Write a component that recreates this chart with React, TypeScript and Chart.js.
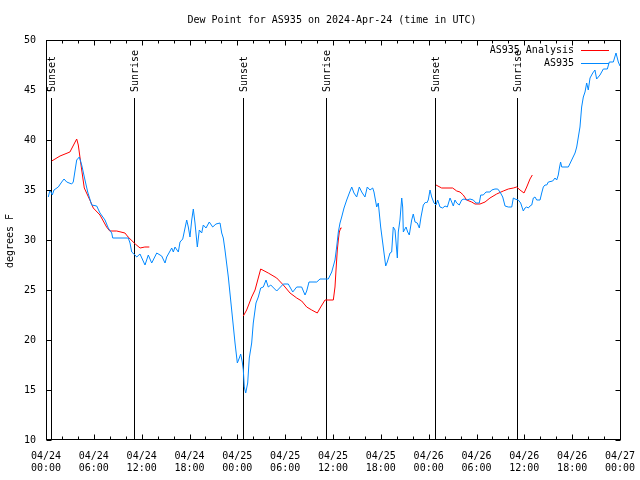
import React, { useEffect, useRef } from "react";
import { Chart, registerables } from "chart.js";

Chart.register(...registerables);

const FONT_FAMILY = "'DejaVu Sans Mono', 'Liberation Mono', monospace";

const chartTitle = "Dew Point for AS935 on 2024-Apr-24 (time in UTC)";
const yAxisTitle = "degrees F";
const seriesNames = ["AS935 Analysis", "AS935"];
const seriesColors = ["#ff0000", "#0088ff"];

const dateLabels = ["04/24", "04/25", "04/26", "04/27"];
const timeLabels = ["00:00", "06:00", "12:00", "18:00"];

const sunLabels = ["Sunset", "Sunrise", "Sunset", "Sunrise", "Sunset", "Sunrise"];
const sunHours = [0.63, 11.04, 24.73, 35.12, 48.8, 59.08];

// hours since 04/24 00:00 UTC
const obsHours = [
  0.29, 0.5, 0.79, 1.0, 1.54, 1.97, 2.26, 2.6, 3.22, 3.42,
  3.85, 4.18, 4.48, 4.89, 5.23, 5.73, 6.36, 6.77, 7.4, 7.81,
  8.24, 8.37, 10.32, 10.54, 10.75, 11.16, 11.38, 11.79, 12.42, 12.83,
  13.26, 13.89, 14.51, 14.93, 15.14, 15.77, 15.97, 16.18, 16.6, 16.81,
  17.15, 17.31, 17.65, 17.85, 18.06, 18.28, 18.48, 18.69, 18.98, 19.23,
  19.53, 19.73, 20.07, 20.48, 20.91, 21.32, 21.83, 22.04, 22.24, 22.45,
  22.87, 23.29, 23.71, 24.0, 24.25, 24.42, 24.62, 24.75, 24.87, 25.05,
  25.3, 25.5, 25.8, 26.0, 26.34, 26.63, 26.93, 27.26, 27.6, 27.88,
  28.19, 28.94, 29.77, 30.39, 30.95, 31.45, 32.07, 32.49, 32.7, 32.99,
  33.96, 34.37, 35.41, 35.84, 36.25, 36.46, 36.67, 36.88, 37.09, 37.38,
  37.72, 38.05, 38.35, 38.63, 38.97, 39.3, 39.6, 40.01, 40.3, 40.64,
  40.98, 41.14, 41.48, 41.68, 41.98, 42.24, 42.4, 42.61, 42.81, 43.15,
  43.36, 43.56, 43.78, 44.07, 44.19, 44.4, 44.62, 44.74, 44.82, 45.16,
  45.37, 45.57, 45.87, 46.07, 46.29, 46.57, 46.83, 47.04, 47.33, 47.63,
  47.75, 47.95, 48.17, 48.38, 48.67, 48.92, 49.13, 49.42, 49.76, 50.05,
  50.34, 50.68, 50.89, 51.09, 51.3, 51.52, 51.84, 52.14, 52.43, 52.77,
  53.18, 53.6, 53.94, 54.35, 54.53, 54.85, 55.19, 55.69, 55.91, 56.32,
  56.66, 56.95, 57.29, 57.58, 57.99, 58.42, 58.62, 58.83, 59.24, 59.54,
  59.87, 60.08, 60.3, 60.5, 60.71, 60.93, 61.13, 61.34, 61.55, 61.97,
  62.18, 62.38, 62.59, 62.81, 63.01, 63.56, 63.85, 64.06, 64.26, 64.4,
  64.55, 64.69, 65.52, 65.94, 66.36, 66.57, 66.98, 67.19, 67.4, 67.61,
  67.82, 68.02, 68.24, 68.58, 68.86, 69.07, 69.49, 69.91, 70.41, 70.66,
  71.16, 71.5, 71.79, 72.0,
];

const obsDewpoint = [
  34.3, 35.0, 34.5, 35.0, 35.3, 35.8, 36.1, 35.8, 35.6, 35.8,
  38.0, 38.3, 37.5, 36.0, 34.8, 33.5, 33.4, 32.7, 32.0, 31.2,
  30.7, 30.2, 30.2, 29.7, 28.8, 28.5, 28.3, 28.6, 27.5, 28.5,
  27.7, 28.7, 28.4, 27.7, 28.3, 29.2, 28.8, 29.3, 28.8, 29.8,
  30.1, 30.7, 32.0, 31.3, 30.3, 32.0, 33.1, 31.7, 29.3, 31.0,
  30.7, 31.5, 31.2, 31.8, 31.3, 31.6, 31.7, 30.7, 30.2, 29.0,
  26.3, 23.0, 19.7, 17.7, 18.2, 18.6, 17.8, 17.0, 15.3, 14.7,
  15.7, 18.2, 19.7, 21.7, 23.7, 24.3, 25.2, 25.3, 26.0, 25.3,
  25.5, 24.9, 25.6, 25.6, 24.8, 25.3, 25.3, 24.5, 24.9, 25.8,
  25.8, 26.1, 26.1, 26.8, 28.0, 29.3, 30.8, 31.7, 32.3, 33.2,
  34.0, 34.7, 35.3, 34.7, 34.3, 35.3, 34.8, 34.3, 35.3, 35.0,
  35.2, 34.8, 33.3, 33.7, 31.3, 29.7, 28.7, 27.4, 27.8, 28.7,
  28.8, 31.3, 31.0, 28.2, 30.8, 32.0, 34.2, 33.3, 30.8, 31.3,
  30.8, 30.5, 32.0, 32.6, 31.8, 31.7, 31.2, 32.3, 33.5, 33.8,
  33.7, 34.0, 35.0, 34.3, 33.7, 33.5, 34.0, 33.3, 33.2, 33.4,
  33.3, 34.2, 33.8, 33.4, 34.0, 33.7, 33.5, 34.0, 34.1, 34.0,
  34.1, 34.0, 33.7, 33.7, 34.5, 34.5, 34.8, 34.8, 35.0, 35.1,
  35.1, 34.8, 34.3, 33.4, 33.3, 33.3, 34.2, 34.1, 34.0, 33.7,
  32.9, 33.2, 33.3, 33.2, 33.4, 33.5, 34.2, 34.3, 34.0, 34.0,
  34.7, 35.3, 35.5, 35.5, 35.8, 35.9, 36.2, 36.0, 36.5, 37.2,
  37.8, 37.3, 37.3, 38.0, 38.7, 39.3, 41.3, 43.3, 44.3, 44.8,
  45.7, 45.0, 46.2, 46.7, 47.0, 46.1, 46.5, 47.1, 47.1, 47.8,
  47.8, 48.7, 47.8, 47.4,
];

const anaHours = [
  0.72, 1.76, 3.0, 3.85, 4.05, 4.48, 4.8, 5.5, 5.93, 6.77,
  7.6, 8.0, 8.87, 9.9, 10.3, 11.2, 11.8, 12.4, 12.96,
  13.5,
  24.75, 25.17, 25.8, 26.22, 26.93, 27.88, 28.94, 29.77, 30.61, 31.45,
  32.07, 32.7, 33.33, 34.03, 34.46, 35.0, 36.04, 36.25, 36.38, 36.54,
  36.67, 36.79, 36.97, 37.09,
  38.0,
  48.92, 49.63, 51.01, 51.52, 51.93, 52.34, 52.77, 53.4, 53.81, 54.44,
  55.07, 55.69, 56.53, 57.36, 57.99, 58.62, 59.04, 59.46, 59.96, 60.3,
  60.71, 61.0,
];

const anaDewpoint: (number | null)[] = [
  37.9, 38.4, 38.8, 40.1, 39.5, 37.0, 35.2, 34.0, 33.2, 32.5,
  31.3, 30.9, 30.9, 30.7, 30.3, 29.6, 29.2, 29.3, 29.3,
  null,
  22.4, 23.0, 24.3, 25.0, 27.1, 26.7, 26.2, 25.5, 24.7, 24.2,
  23.9, 23.3, 23.0, 22.7, 23.3, 24.0, 24.0, 25.3, 27.0, 29.0,
  30.0, 30.8, 31.2, 31.2,
  null,
  35.5, 35.2, 35.2, 34.9, 34.8, 34.5, 34.0, 33.8, 33.6, 33.6,
  33.8, 34.2, 34.6, 34.9, 35.1, 35.2, 35.3, 35.0, 34.7, 35.3,
  36.1, 36.5,
];

const font = (size = 10) => `${size}px ${FONT_FAMILY}`;

const overlayPlugin = {
  id: "gnuplotOverlay",
  beforeDatasetsDraw(chart: any) {
    const { ctx, chartArea: a, scales } = chart;
    const x = scales.x;
    ctx.save();
    ctx.strokeStyle = "#000";
    ctx.fillStyle = "#000";
    ctx.lineWidth = 1;
    ctx.font = font(10);
    sunHours.forEach((h, i) => {
      const px = Math.round(x.getPixelForValue(h)) + 0.5;
      ctx.beginPath();
      ctx.moveTo(px, a.top + 58);
      ctx.lineTo(px, a.bottom);
      ctx.stroke();
      ctx.save();
      ctx.translate(px + 1, a.top + 52);
      ctx.rotate(-Math.PI / 2);
      ctx.textAlign = "left";
      ctx.textBaseline = "middle";
      ctx.fillText(sunLabels[i], 0, 0);
      ctx.restore();
    });
    ctx.restore();
  },
  afterDatasetsDraw(chart: any) {
    const { ctx, chartArea: a, scales } = chart;
    const x = scales.x;
    const y = scales.y;
    ctx.save();
    ctx.strokeStyle = "#000";
    ctx.lineWidth = 1;
    const L = Math.round(a.left) + 0.5;
    const R = Math.round(a.right) + 0.5;
    const T = Math.round(a.top) + 0.5;
    const B = Math.round(a.bottom) - 0.5;
    ctx.beginPath();
    for (let h = x.min; h <= x.max + 1e-9; h += 2) {
      const px = Math.round(x.getPixelForValue(h)) + 0.5;
      const len = h % 6 === 0 ? 5 : 3;
      ctx.moveTo(px, B);
      ctx.lineTo(px, B - len);
      ctx.moveTo(px, T);
      ctx.lineTo(px, T + len);
    }
    y.ticks.forEach((t: any) => {
      const py = Math.round(y.getPixelForValue(t.value)) + 0.5;
      ctx.moveTo(L, py);
      ctx.lineTo(L + 5, py);
      ctx.moveTo(R, py);
      ctx.lineTo(R - 5, py);
    });
    ctx.stroke();
    ctx.strokeRect(L, T, R - L, B - T);

    ctx.fillStyle = "#000";
    ctx.font = font(10);
    ctx.textAlign = "center";
    ctx.textBaseline = "middle";
    ctx.fillText(chartTitle, (a.left + a.right) / 2 - 1, 20);

    ctx.save();
    ctx.translate(10, (a.top + a.bottom) / 2 + 1);
    ctx.rotate(-Math.PI / 2);
    ctx.fillText(yAxisTitle, 0, 0);
    ctx.restore();

    const rows = [a.top + 10, a.top + 23];
    seriesNames.forEach((name, i) => {
      ctx.textAlign = "right";
      ctx.fillStyle = "#000";
      ctx.fillText(name, a.right - 46, rows[i]);
      ctx.strokeStyle = seriesColors[i];
      ctx.beginPath();
      ctx.moveTo(a.right - 39, Math.round(rows[i]) + 0.5);
      ctx.lineTo(a.right - 11, Math.round(rows[i]) + 0.5);
      ctx.stroke();
    });
    ctx.restore();
  },
};

export default function App() {
  const canvasRef = useRef<HTMLCanvasElement | null>(null);

  useEffect(() => {
    const canvas = canvasRef.current;
    if (!canvas) return;
    const obsData = obsHours.map((h, i) => ({ x: h, y: obsDewpoint[i] }));
    const anaData = anaHours.map((h, i) => ({ x: h, y: anaDewpoint[i] }));

    const chart = new Chart(canvas, {
      type: "line",
      data: {
        datasets: [
          {
            label: seriesNames[0],
            data: anaData as any,
            borderColor: seriesColors[0],
            backgroundColor: seriesColors[0],
            borderWidth: 1,
            pointRadius: 0,
            spanGaps: false,
            order: 2,
          },
          {
            label: seriesNames[1],
            data: obsData,
            borderColor: seriesColors[1],
            backgroundColor: seriesColors[1],
            borderWidth: 1,
            pointRadius: 0,
            order: 1,
          },
        ],
      },
      options: {
        responsive: false,
        animation: false,
        layout: { padding: { top: 40, right: 20, left: 0, bottom: 0 } },
        plugins: {
          legend: { display: false },
          title: { display: false },
          tooltip: { enabled: false },
        },
        elements: { line: { tension: 0 } },
        scales: {
          x: {
            type: "linear",
            min: 0,
            max: 72,
            grid: { display: false, drawTicks: false },
            border: { display: false },
            ticks: {
              stepSize: 6,
              autoSkip: false,
              maxRotation: 0,
              padding: 10,
              color: "#000",
              font: { family: FONT_FAMILY, size: 10, lineHeight: 1.2 },
              callback: (v: any) => {
                const n = Number(v);
                return [dateLabels[Math.floor(n / 24)], timeLabels[(n % 24) / 6]];
              },
            },
            afterFit: (s: any) => {
              s.height = 40;
              s.paddingLeft = 0;
              s.paddingRight = 0;
            },
          },
          y: {
            min: 10,
            max: 50,
            grid: { display: false, drawTicks: false },
            border: { display: false },
            ticks: {
              stepSize: 5,
              padding: 10,
              color: "#000",
              font: { family: FONT_FAMILY, size: 10 },
            },
            afterFit: (s: any) => {
              s.width = 46;
              s.paddingTop = 0;
              s.paddingBottom = 0;
            },
          },
        },
      },
      plugins: [overlayPlugin],
    });
    return () => chart.destroy();
  }, []);

  return (
    <div style={{ position: "fixed", left: 0, top: 0, width: 640, height: 480, background: "#fff" }}>
      <canvas ref={canvasRef} width={640} height={480} style={{ display: "block" }} />
    </div>
  );
}
